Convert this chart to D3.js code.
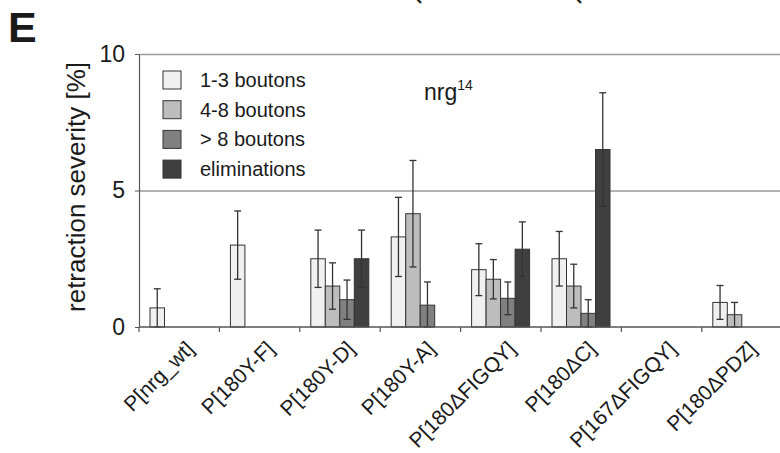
<!DOCTYPE html>
<html>
<head>
<meta charset="utf-8">
<script src="https://d3js.org/d3.v7.min.js"></script>
<style>
  body { margin: 0; background: #fff; }
  text { font-family: "Liberation Sans", Arial, Helvetica, sans-serif; fill: #1a1a1a; }
</style>
</head>
<body>
<div id="plot"></div>
<script>
const categories = ['P[nrg_wt]', 'P[180Y-F]', 'P[180Y-D]', 'P[180Y-A]', 'P[180\u0394FIGQY]', 'P[180\u0394C]', 'P[167\u0394FIGQY]', 'P[180\u0394PDZ]'];
const series = ['1-3 boutons', '4-8 boutons', '> 8 boutons', 'eliminations'];
const colors = ['#f0f0f0', '#bdbdbd', '#808080', '#404040'];

// mean values, null = no bar
const b13 = [0.7, 3.0, 2.5, 3.3, 2.1, 2.5, null, 0.9];
const b48 = [null, null, 1.5, 4.15, 1.75, 1.5, null, 0.45];
const b8 = [null, null, 1.0, 0.8, 1.05, 0.5, null, null];
const elim = [null, null, 2.5, null, 2.85, 6.5, null, null];

// error bar half-lengths
const e13 = [0.7, 1.25, 1.05, 1.45, 0.95, 1.0, null, 0.62];
const e48 = [null, null, 0.85, 1.95, 0.72, 0.8, null, 0.45];
const e8 = [null, null, 0.72, 0.85, 0.6, 0.5, null, null];
const eElim = [null, null, 1.05, null, 1.0, 2.08, null, null];

const yTicks = [0, 5, 10];
const topCutLabels = ['P[nrg_wt]', 'P[nrg_wt]'];

const W = 780, H = 453;
const margin = { left: 139, top: 54, bottom: 126 };

const svg = d3.select('#plot').append('svg')
  .attr('width', W).attr('height', H);

const x = d3.scaleBand().domain(categories).range([margin.left, margin.left + 8 * 80.4]);
const x1 = d3.scaleBand().domain(series).range([11, 69]);
const y = d3.scaleLinear().domain([0, 10]).range([H - margin.bottom, margin.top]);

const vals = [b13, b48, b8, elim];
const errs = [e13, e48, e8, eElim];
const rows = [];
series.forEach((s, si) => {
  categories.forEach((c, ci) => {
    if (vals[si][ci] != null) rows.push({ cat: c, s: s, si: si, v: vals[si][ci], e: errs[si][ci] });
  });
});

// gridlines at 5 and 10
svg.append('g')
  .attr('transform', `translate(${margin.left},0)`)
  .call(d3.axisLeft(y).tickValues([5, 10]).tickSize(-(W - margin.left)).tickFormat(''))
  .call(g => g.select('.domain').remove())
  .call(g => g.selectAll('line').attr('stroke', '#9a9a9a').attr('stroke-width', 1.4));

// y axis
svg.append('g')
  .attr('transform', `translate(${margin.left},0)`)
  .call(d3.axisLeft(y).tickValues(yTicks).tickSize(4).tickSizeOuter(0).tickPadding(10))
  .call(g => g.select('.domain').attr('stroke', '#555').attr('stroke-width', 1.2))
  .call(g => g.selectAll('line').attr('stroke', '#555'))
  .call(g => g.selectAll('text')
    .style('font-size', '23px')
    .attr('fill', '#1a1a1a'));

svg.append('text')
  .attr('transform', `translate(85,187) rotate(-90)`)
  .attr('text-anchor', 'middle')
  .style('font-size', '26px')
  .text('retraction severity [%]');

// bars
svg.append('g').selectAll('rect')
  .data(rows).enter().append('rect')
  .attr('x', d => x(d.cat) + x1(d.s))
  .attr('y', d => y(d.v))
  .attr('width', x1.bandwidth())
  .attr('height', d => y(0) - y(d.v))
  .attr('fill', d => colors[d.si])
  .attr('stroke', '#333')
  .attr('stroke-width', 1);

// error bars
const eg = svg.append('g').attr('stroke', '#333').attr('stroke-width', 1.3);
rows.forEach(d => {
  const cx = x(d.cat) + x1(d.s) + x1.bandwidth() / 2;
  const hi = y(d.v + d.e);
  const lo = y(Math.max(0, d.v - d.e));
  eg.append('line').attr('x1', cx).attr('x2', cx).attr('y1', hi).attr('y2', lo);
  eg.append('line').attr('x1', cx - 3.5).attr('x2', cx + 3.5).attr('y1', hi).attr('y2', hi);
  eg.append('line').attr('x1', cx - 3.5).attr('x2', cx + 3.5).attr('y1', lo).attr('y2', lo);
});

// x axis
svg.append('g')
  .attr('transform', `translate(0,${y(0)})`)
  .call(d3.axisBottom(x).tickSize(0).tickSizeOuter(0).tickFormat(''))
  .call(g => g.select('.domain').attr('stroke', '#555').attr('stroke-width', 1.4).attr('d', `M${margin.left},0H${W}`));

svg.append('g').selectAll('line')
  .data(categories).enter().append('line')
  .attr('x1', d => x(d)).attr('x2', d => x(d))
  .attr('y1', y(0)).attr('y2', y(0) + 5)
  .attr('stroke', '#555').attr('stroke-width', 1.2);

svg.append('g').selectAll('text')
  .data(categories).enter().append('text')
  .attr('transform', d => `translate(${x(d) + x.bandwidth() / 2 + 16},${y(0) + 23}) rotate(-45)`)
  .attr('text-anchor', 'end')
  .style('font-size', '21px')
  .text(d => d);

// legend
const lg = svg.append('g').attr('transform', 'translate(163,71)');
series.forEach((s, i) => {
  lg.append('rect')
    .attr('x', 0).attr('y', i * 29.7)
    .attr('width', 18).attr('height', 18)
    .attr('fill', colors[i]).attr('stroke', '#333').attr('stroke-width', 1);
  lg.append('text')
    .attr('x', 37).attr('y', i * 29.7 + 9)
    .attr('dy', '0.35em')
    .style('font-size', '20px')
    .text(s);
});

// genotype annotation
const ann = svg.append('text').attr('x', 424).attr('y', 100).style('font-size', '23px');
ann.append('tspan').text('nrg');
ann.append('tspan').attr('dy', -10).style('font-size', '14px').text('14');

// panel letter
svg.append('text')
  .attr('x', 8).attr('y', 42)
  .style('font-size', '43px').style('font-weight', 'bold')
  .text('E');

// cut-off labels of the panel above
svg.append('g').selectAll('text')
  .data(topCutLabels).enter().append('text')
  .attr('transform', (d, i) => `translate(${i ? 579 : 419},5) rotate(-45)`)
  .style('font-size', '22px')
  .text(d => d);
</script>
</body>
</html>
